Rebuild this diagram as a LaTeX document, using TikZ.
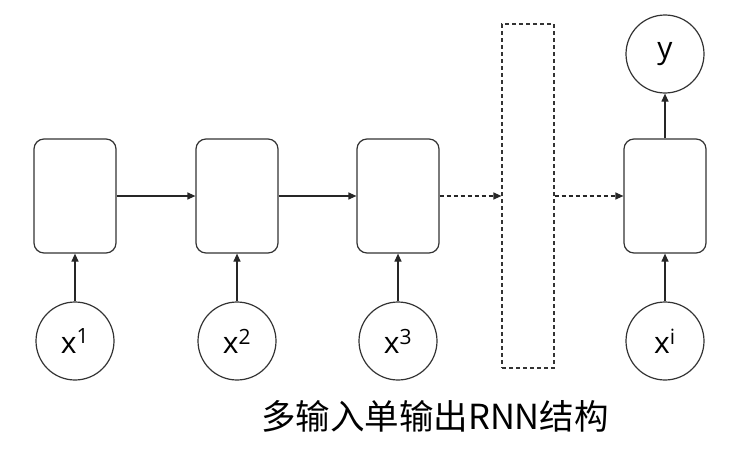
\documentclass[tikz,border=0pt]{standalone}
\usepackage{fontspec}
\setmainfont{Open Sans}
\newfontfamily\cjk{Noto Sans CJK SC}
\usetikzlibrary{arrows.meta}
\begin{document}
\begin{tikzpicture}[x=1pt,y=-1pt,
  cell/.style={draw=black!80,line width=1.2pt,rounded corners=10pt,minimum width=82pt,minimum height=114pt,inner sep=0pt},
  inp/.style={draw=black!80,line width=1.2pt,circle,minimum size=78pt,inner sep=0pt,font=\fontsize{30}{32}\selectfont},
  arr/.style={draw=black!85,line width=1.2pt,-{Triangle[length=8pt,width=7pt]}},
  darr/.style={arr,dash pattern=on 4pt off 3pt},
  hidden/.style={draw=black!80,line width=1.2pt,dash pattern=on 4pt off 3pt,minimum width=52pt,minimum height=344pt,inner sep=0pt}]
\useasboundingbox (0,0) rectangle (738,463);
\node[cell] (h1) at (75,196) {};
\node[cell] (h2) at (237,196) {};
\node[cell] (h3) at (398,196) {};
\node[hidden] (hd) at (528,196) {};
\node[cell] (h5) at (665,196) {};
\node[inp] (x1) at (75,341) {x\textsuperscript{1}};
\node[inp] (x2) at (237,341) {x\textsuperscript{2}};
\node[inp] (x3) at (398,341) {x\textsuperscript{3}};
\node[inp] (xi) at (665,341) {x\textsuperscript{i}};
\node[inp] (y) at (665,54) {y};
\draw[arr] (x1) -- (h1);
\draw[arr] (x2) -- (h2);
\draw[arr] (x3) -- (h3);
\draw[arr] (xi) -- (h5);
\draw[arr] (h5) -- (y);
\draw[arr] (h1) -- (h2);
\draw[arr] (h2) -- (h3);
\draw[darr] (h3) -- (hd);
\draw[darr] (hd) -- (h5);
\node[font=\cjk\fontsize{34.5}{37}\selectfont,inner sep=0pt] (cap) at (435,416) {多输入单输出RNN结构};
\end{tikzpicture}
\end{document}
